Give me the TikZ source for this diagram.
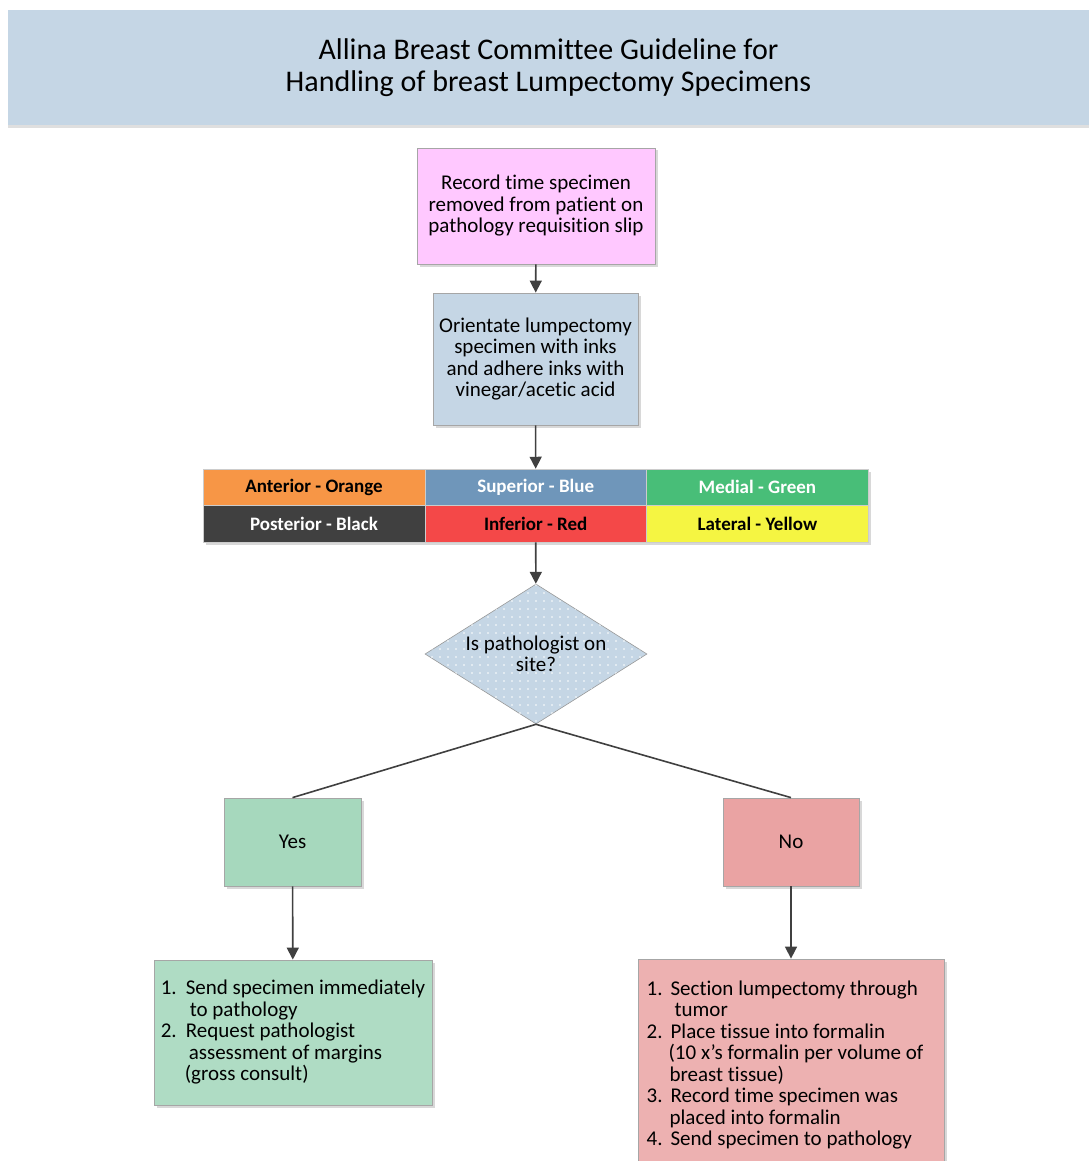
\documentclass[tikz,border=0pt]{standalone}
\usepackage{fontspec}
\setmainfont{Carlito}[Ligatures=NoCommon]
\usetikzlibrary{shapes.geometric,arrows.meta,shadows,patterns.meta}

\definecolor{titlebg}{RGB}{197,214,229}
\definecolor{recpink}{RGB}{255,200,255}
\definecolor{orientblue}{RGB}{197,214,229}
\definecolor{inkorange}{RGB}{247,150,70}
\definecolor{inkblue}{RGB}{111,150,186}
\definecolor{inkgreen}{RGB}{72,190,120}
\definecolor{inkblack}{RGB}{64,64,64}
\definecolor{inkred}{RGB}{244,72,72}
\definecolor{inkyellow}{RGB}{245,245,66}
\definecolor{yesgreen}{RGB}{166,216,189}
\definecolor{nored}{RGB}{234,163,163}
\definecolor{linegray}{RGB}{64,64,64}

\newcommand{\bodysize}{\fontsize{21}{21.5}\selectfont}
\newcommand{\inksize}{\fontsize{19}{20}\selectfont\bfseries}

\tikzset{
  box/.style={draw=gray!70, line width=0.8pt, align=center, inner sep=0pt,
    font=\bodysize, drop shadow={shadow xshift=2.5pt, shadow yshift=-2.5pt, fill=gray!60, opacity=0.5}},
  inkcell/.style={draw=gray!40, line width=0.5pt, minimum width=221.7pt, minimum height=36.5pt,
    inner sep=0pt, font=\inksize},
  flow/.style={draw=linegray, line width=1.6pt, -{Triangle[length=12pt,width=12pt]}},
  branch/.style={draw=linegray, line width=1.6pt}
}

\begin{document}
\begin{tikzpicture}[x=1pt,y=1pt]
  \useasboundingbox (0,0) rectangle (1089,-1161);

  % heading
  \fill[gray!25] (8,-10) rectangle (1089,-128);
  \node[fill=titlebg, minimum width=1081pt, minimum height=115pt, inner sep=0pt,
        align=center, font=\fontsize{30}{32}\selectfont] (title) at (548.5,-67.5)
    {Allina Breast Committee Guideline for\\Handling of breast Lumpectomy Specimens};

  % steps
  \node[box, fill=recpink, minimum width=238pt, minimum height=116pt] (record) at (536,-206)
    {Record time specimen\\removed from patient on\\pathology requisition slip};
  \node[box, fill=orientblue, minimum width=205pt, minimum height=132pt] (orient) at (535.5,-359)
    {Orientate lumpectomy\\specimen with inks\\and adhere inks with\\vinegar/acetic acid};

  % ink colours
  \fill[gray!60, opacity=0.5] (205.5,-471.5) rectangle (870.5,-544.5);
  \node[inkcell, fill=inkorange] (anterior) at (314,-487.25) {Anterior - Orange};
  \node[inkcell, fill=inkblue, text=white] (superior) at (535.7,-487.25) {Superior - Blue};
  \node[inkcell, fill=inkgreen, text=white] (medial) at (757.4,-487.25) {Medial - Green};
  \node[inkcell, fill=inkblack, text=white] (posterior) at (314,-523.75) {Posterior - Black};
  \node[inkcell, fill=inkred] (inferior) at (535.7,-523.75) {Inferior - Red};
  \node[inkcell, fill=inkyellow] (lateral) at (757.4,-523.75) {Lateral - Yellow};

  % decision
  \node[diamond, aspect=1.585, minimum width=222pt, minimum height=140pt, inner sep=0pt,
        draw=gray!80, line width=0.6pt, fill=orientblue, font=\bodysize, align=center,
        postaction={pattern={Dots[distance=8pt,radius=0.9pt]}, pattern color=white}]
        (onsite) at (536,-654) {Is pathologist on\\site?};

  \node[box, fill=yesgreen, minimum width=137pt, minimum height=88pt] (yes) at (292.5,-842) {Yes};
  \node[box, fill=nored, minimum width=136pt, minimum height=88pt] (no) at (791,-842) {No};

  % actions
  \node[box, fill=yesgreen!90!white, minimum width=278pt, minimum height=145pt,
        align=left] (consult) at (293,-1032.5)
    {\makebox[25pt][l]{1.}Send specimen immediately\\
     \hspace*{29pt}to pathology\\
     \makebox[25pt][l]{2.}Request pathologist\\
     \hspace*{28pt}assessment of margins\\
     \hspace*{24pt}(gross consult)};
  \node[box, fill=nored!85!white, minimum width=306pt, minimum height=212pt,
        align=left] (formalin) at (791,-1065)
    {\makebox[24pt][l]{1.}Section lumpectomy through\\
     \hspace*{28pt}tumor\\
     \makebox[24pt][l]{2.}Place tissue into formalin\\
     \hspace*{22pt}(10 x’s formalin per volume of\makebox[12pt]{}\\
     \hspace*{23pt}breast tissue)\\
     \makebox[24pt][l]{3.}Record time specimen was\\
     \hspace*{23pt}placed into formalin\\
     \makebox[24pt][l]{4.}Send specimen to pathology};

  \draw[flow] (record) -- (orient);
  \draw[flow] (orient) -- (superior);
  \draw[flow] (inferior) -- (onsite);
  \draw[branch] (onsite.south) -- (yes.north);
  \draw[branch] (onsite.south) -- (no.north);
  \draw[flow] (yes) -- (consult);
  \draw[flow] (no) -- (formalin);
\end{tikzpicture}
\end{document}
